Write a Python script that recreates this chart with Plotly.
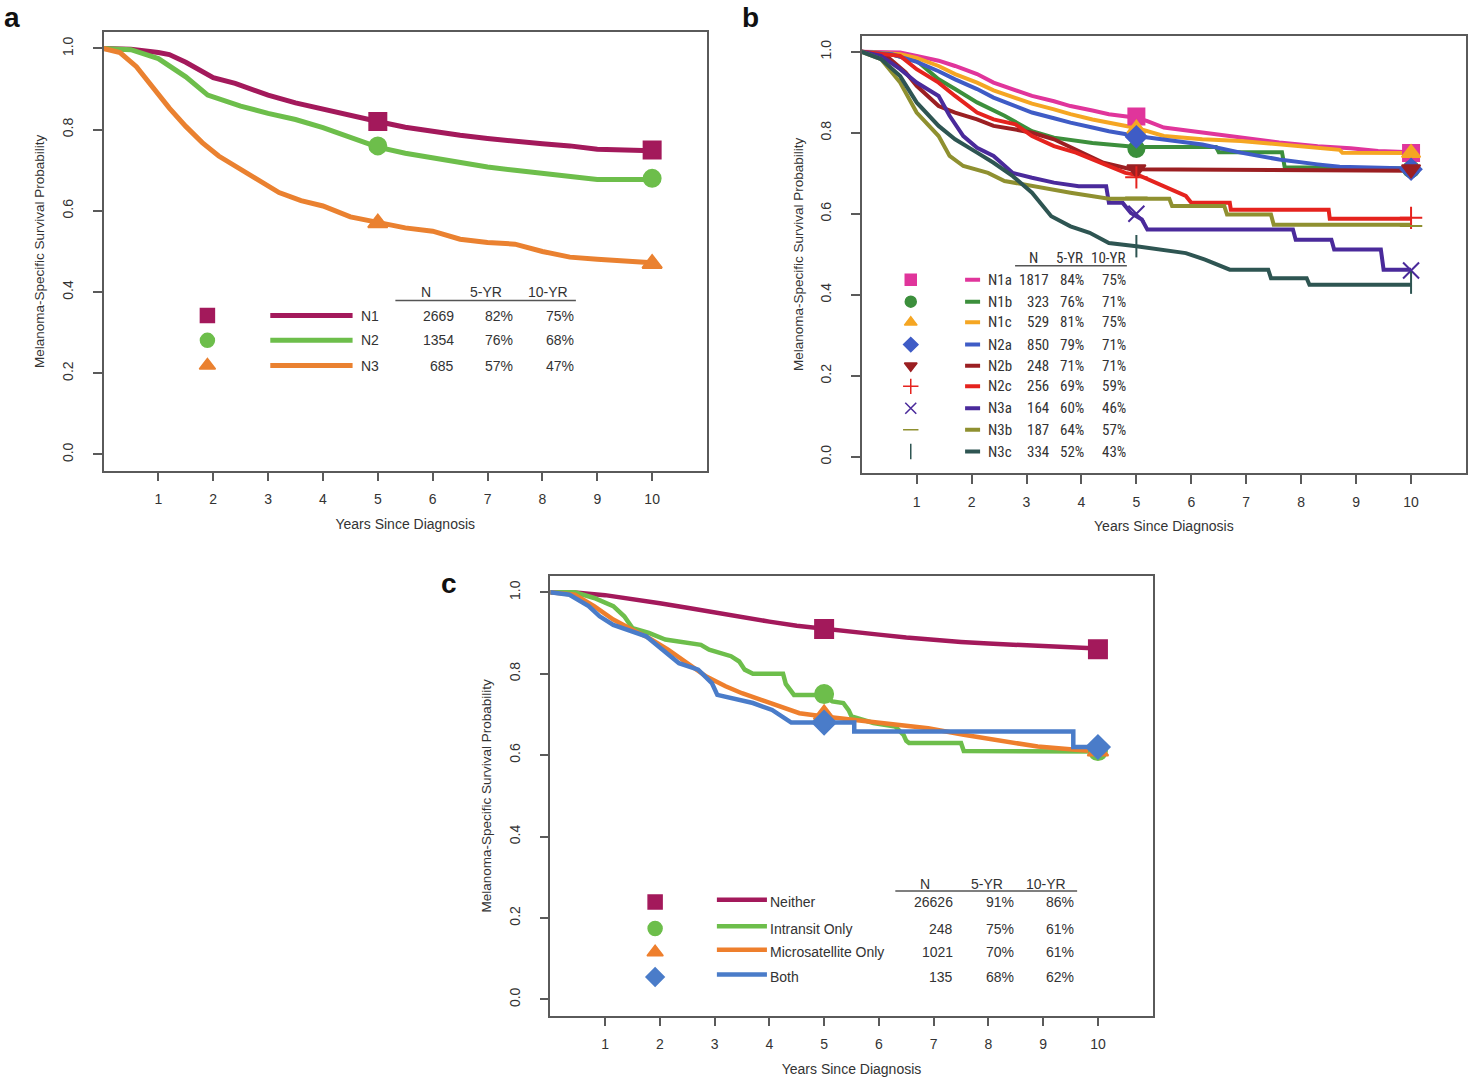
import plotly.graph_objects as go

W, H = 1471, 1084
FONT = "Liberation Sans, Arial, sans-serif"
NARROW = "Liberation Sans Narrow, Roboto Condensed, Arial Narrow, Liberation Sans, sans-serif"

# ---------------- Panel a data ----------------
A_NAMES = ["N1", "N2", "N3"]
A_N = [2669, 1354, 685]
A_5YR = [82, 76, 57]
A_10YR = [75, 68, 47]
A_COLORS = ["#A3195B", "#6DBE4B", "#EA8130"]
A_SYMBOLS = ["square", "circle", "triangle-up"]
A_N1_t = [0, 0.5, 1.0, 1.2, 1.5, 2.0, 2.4, 3.0, 3.5, 4.0, 4.5, 5.0, 5.5, 6.0, 6.5, 7.0, 7.5, 8.0, 8.5, 9.0, 9.5, 10.0]
A_N1_s = [1.0, 0.998, 0.99, 0.985, 0.966, 0.928, 0.914, 0.885, 0.866, 0.850, 0.835, 0.82, 0.806, 0.795, 0.786, 0.778, 0.770, 0.765, 0.760, 0.752, 0.750, 0.748]
A_N2_t = [0, 0.5, 1.0, 1.5, 1.9, 2.2, 2.5, 3.0, 3.5, 4.0, 4.5, 5.0, 5.5, 6.0, 6.5, 7.0, 7.5, 8.0, 8.5, 9.0, 9.5, 10.0]
A_N2_s = [1.0, 0.997, 0.975, 0.93, 0.885, 0.87, 0.858, 0.84, 0.825, 0.805, 0.78, 0.757, 0.742, 0.73, 0.718, 0.708, 0.700, 0.693, 0.684, 0.677, 0.677, 0.677]
A_N3_t = [0, 0.3, 0.6, 0.9, 1.2, 1.5, 1.8, 2.1, 2.4, 2.8, 3.2, 3.6, 4.0, 4.5, 5.0, 5.5, 6.0, 6.5, 7.0, 7.5, 8.0, 8.5, 9.0, 9.5, 10.0]
A_N3_s = [1.0, 0.99, 0.955, 0.905, 0.853, 0.808, 0.768, 0.735, 0.71, 0.675, 0.645, 0.625, 0.612, 0.585, 0.57, 0.558, 0.55, 0.53, 0.522, 0.518, 0.50, 0.486, 0.481, 0.478, 0.472]

# ---------------- Panel b data ----------------
B_NAMES = ["N1a", "N1b", "N1c", "N2a", "N2b", "N2c", "N3a", "N3b", "N3c"]
B_N = [1817, 323, 529, 850, 248, 256, 164, 187, 334]
B_5YR = [84, 76, 81, 79, 71, 69, 60, 64, 52]
B_10YR = [75, 71, 75, 71, 71, 59, 46, 57, 43]
B_COLORS = ["#E0359B", "#3C8F3C", "#F5A623", "#3F5CC6", "#9B1F22", "#E5231E", "#4A2A9B", "#8F9030", "#2E5552"]
B_SYMBOLS = ["square", "circle", "triangle-up", "diamond", "triangle-down",
             "cross-thin-open", "x-thin-open", "line-ew-open", "line-ns-open"]
B_N1a_t = [0, 0.7, 1.0, 1.4, 1.7, 2.1, 2.4, 2.8, 3.1, 3.5, 3.8, 4.2, 4.5, 5.0, 5.2, 5.5, 6.2, 6.9, 7.6, 8.3, 8.9, 9.4, 10.0]
B_N1a_s = [1.0, 0.998, 0.99, 0.978, 0.965, 0.945, 0.924, 0.905, 0.891, 0.878, 0.866, 0.855, 0.846, 0.837, 0.829, 0.813, 0.80, 0.788, 0.776, 0.767, 0.762, 0.755, 0.752]
B_N1b_t = [0, 0.5, 1.0, 1.4, 1.7, 2.1, 2.6, 3.1, 3.5, 4.2, 5.0, 6.45, 6.5, 7.65, 7.7, 10.0]
B_N1b_s = [1.0, 0.995, 0.978, 0.932, 0.908, 0.875, 0.842, 0.804, 0.788, 0.775, 0.765, 0.765, 0.752, 0.752, 0.715, 0.712]
B_N1c_t = [0, 0.7, 1.0, 1.4, 1.7, 2.1, 2.4, 2.8, 3.1, 3.5, 3.8, 4.2, 4.8, 5.0, 5.5, 6.2, 6.9, 7.6, 8.3, 8.7, 8.75, 10.0]
B_N1c_s = [1.0, 0.994, 0.985, 0.965, 0.945, 0.924, 0.905, 0.887, 0.872, 0.858, 0.846, 0.833, 0.817, 0.812, 0.792, 0.784, 0.78, 0.771, 0.763, 0.758, 0.751, 0.75]
B_N2a_t = [0, 0.55, 1.0, 1.4, 1.7, 2.1, 2.4, 2.8, 3.1, 3.5, 3.8, 4.2, 4.5, 5.0, 5.5, 6.2, 6.9, 7.6, 8.3, 8.7, 10.0]
B_N2a_s = [1.0, 0.994, 0.975, 0.952, 0.932, 0.908, 0.887, 0.866, 0.85, 0.836, 0.825, 0.813, 0.804, 0.792, 0.784, 0.771, 0.751, 0.734, 0.722, 0.716, 0.712]
B_N2b_t = [0, 0.45, 0.8, 1.0, 1.4, 1.7, 2.1, 2.4, 2.8, 3.1, 3.5, 3.9, 4.4, 4.9, 10.0]
B_N2b_s = [1.0, 0.99, 0.949, 0.916, 0.866, 0.85, 0.833, 0.817, 0.808, 0.80, 0.784, 0.759, 0.726, 0.71, 0.706]
B_N2c_t = [0, 0.7, 1.0, 1.4, 1.7, 2.1, 2.4, 2.8, 3.1, 3.5, 3.9, 4.35, 4.8, 5.05, 5.35, 5.6, 5.9, 6.0, 6.7, 6.72, 8.5, 8.52, 10.0]
B_N2c_s = [1.0, 0.99, 0.957, 0.924, 0.891, 0.85, 0.833, 0.821, 0.792, 0.767, 0.751, 0.726, 0.701, 0.695, 0.677, 0.66, 0.644, 0.627, 0.627, 0.61, 0.61, 0.588, 0.588]
B_N3a_t = [0, 0.35, 0.7, 1.0, 1.4, 1.6, 1.85, 2.1, 2.4, 2.75, 3.1, 3.5, 3.95, 4.45, 4.5, 4.75, 4.9, 5.1, 5.2, 7.85, 7.9, 8.55, 8.6, 9.45, 9.5, 10.0]
B_N3a_s = [1.0, 0.99, 0.957, 0.924, 0.891, 0.842, 0.792, 0.763, 0.743, 0.701, 0.689, 0.677, 0.668, 0.668, 0.627, 0.627, 0.602, 0.586, 0.561, 0.561, 0.536, 0.536, 0.512, 0.512, 0.462, 0.462]
B_N3b_t = [0, 0.35, 0.7, 1.0, 1.4, 1.6, 1.85, 2.3, 2.6, 3.1, 3.8, 4.5, 5.6, 5.65, 6.6, 6.65, 7.45, 7.5, 10.0]
B_N3b_s = [1.0, 0.982, 0.924, 0.85, 0.792, 0.743, 0.718, 0.701, 0.681, 0.668, 0.652, 0.637, 0.637, 0.619, 0.619, 0.598, 0.598, 0.573, 0.573]
B_N3c_t = [0, 0.35, 0.7, 1.0, 1.4, 1.7, 2.1, 2.4, 2.75, 3.1, 3.45, 3.8, 4.15, 4.5, 5.0, 5.9, 6.25, 6.7, 7.4, 7.45, 8.1, 8.15, 10.0]
B_N3c_s = [1.0, 0.982, 0.94, 0.875, 0.817, 0.784, 0.751, 0.726, 0.693, 0.652, 0.594, 0.569, 0.553, 0.528, 0.52, 0.503, 0.487, 0.462, 0.462, 0.441, 0.441, 0.425, 0.425]

# ---------------- Panel c data ----------------
C_NAMES = ["Neither", "Intransit Only", "Microsatellite Only", "Both"]
C_N = [26626, 248, 1021, 135]
C_5YR = [91, 75, 70, 68]
C_10YR = [86, 61, 61, 62]
C_COLORS = ["#A3195B", "#6DBE4B", "#EE7F2D", "#4A7CC9"]
C_SYMBOLS = ["square", "circle", "triangle-up", "diamond"]
C_NEI_t = [0, 0.5, 1.0, 1.5, 2.0, 2.5, 3.0, 3.5, 4.0, 4.5, 5.0, 5.5, 6.0, 6.5, 7.0, 7.5, 8.0, 8.5, 9.0, 9.5, 10.0]
C_NEI_s = [1.0, 0.999, 0.993, 0.984, 0.973, 0.962, 0.950, 0.939, 0.928, 0.918, 0.910, 0.903, 0.896, 0.889, 0.883, 0.878, 0.874, 0.871, 0.868, 0.865, 0.862]
C_INT_t = [0, 0.45, 0.8, 1.15, 1.35, 1.5, 1.8, 2.1, 2.75, 2.9, 3.3, 3.45, 3.55, 3.7, 4.25, 4.3, 4.45, 4.95, 5.15, 5.35, 5.45, 5.5, 5.9, 6.3, 6.45, 6.5, 6.55, 7.5, 7.55, 10.0]
C_INT_s = [1.0, 1.0, 0.986, 0.966, 0.941, 0.912, 0.90, 0.884, 0.871, 0.859, 0.843, 0.83, 0.81, 0.80, 0.80, 0.775, 0.748, 0.748, 0.732, 0.728, 0.71, 0.695, 0.679, 0.67, 0.65, 0.635, 0.63, 0.63, 0.61, 0.609]
C_MIC_t = [0, 0.45, 0.8, 1.15, 1.5, 1.8, 2.15, 2.5, 2.85, 3.2, 3.5, 3.85, 4.2, 4.55, 5.0, 5.5, 6.2, 6.9, 7.55, 8.25, 8.9, 9.6, 10.0]
C_MIC_s = [1.0, 0.994, 0.966, 0.933, 0.908, 0.888, 0.859, 0.826, 0.793, 0.769, 0.752, 0.736, 0.72, 0.703, 0.695, 0.687, 0.675, 0.666, 0.65, 0.634, 0.621, 0.613, 0.609]
C_BOT_t = [0, 0.35, 0.7, 0.9, 1.15, 1.5, 1.75, 2.05, 2.35, 2.7, 2.95, 3.05, 3.3, 3.7, 4.05, 4.4, 5.0, 5.55, 5.55, 9.55, 9.55, 10.0]
C_BOT_s = [1.0, 0.994, 0.966, 0.941, 0.92, 0.904, 0.892, 0.859, 0.826, 0.81, 0.777, 0.748, 0.74, 0.728, 0.711, 0.68, 0.68, 0.68, 0.658, 0.658, 0.62, 0.62]

YTICKS = [0.0, 0.2, 0.4, 0.6, 0.8, 1.0]
YTICKTEXT = ["0.0", "0.2", "0.4", "0.6", "0.8", "1.0"]
XTICKS = [1, 2, 3, 4, 5, 6, 7, 8, 9, 10]
MARK_T = [5, 10]

fig = go.Figure()

def add_curve(t, s, color, width, xa, ya):
    fig.add_trace(go.Scatter(x=t, y=s, mode="lines", line=dict(color=color, width=width),
                             xaxis=xa, yaxis=ya, hoverinfo="skip", showlegend=False))

def add_markers(v5, v10, color, symbol, size, xa, ya, lw=2):
    fig.add_trace(go.Scatter(x=MARK_T, y=[v5 / 100, v10 / 100], mode="markers",
                             marker=dict(color=color, symbol=symbol, size=size,
                                         line=dict(color=color, width=lw)),
                             xaxis=xa, yaxis=ya, hoverinfo="skip", showlegend=False))

# ---- Panel a curves ----
for t, s, c in zip([A_N1_t, A_N2_t, A_N3_t], [A_N1_s, A_N2_s, A_N3_s], A_COLORS):
    add_curve(t, s, c, 5, "x", "y")
for i in range(3):
    add_markers(A_5YR[i], A_10YR[i], A_COLORS[i], A_SYMBOLS[i], 17, "x", "y")

# ---- Panel b curves ----
B_T = [B_N1a_t, B_N1b_t, B_N1c_t, B_N2a_t, B_N2b_t, B_N2c_t, B_N3a_t, B_N3b_t, B_N3c_t]
B_S = [B_N1a_s, B_N1b_s, B_N1c_s, B_N2a_s, B_N2b_s, B_N2c_s, B_N3a_s, B_N3b_s, B_N3c_s]
for t, s, c in zip(B_T, B_S, B_COLORS):
    add_curve(t, s, c, 4, "x2", "y2")
for i in range(9):
    add_markers(B_5YR[i], B_10YR[i], B_COLORS[i], B_SYMBOLS[i], 16, "x2", "y2")

# ---- Panel c curves ----
C_T = [C_NEI_t, C_INT_t, C_MIC_t, C_BOT_t]
C_S = [C_NEI_s, C_INT_s, C_MIC_s, C_BOT_s]
for t, s, c in zip(C_T, C_S, C_COLORS):
    add_curve(t, s, c, 4.5, "x3", "y3")
for i in range(4):
    add_markers(C_5YR[i], C_10YR[i], C_COLORS[i], C_SYMBOLS[i], 18, "x3", "y3")

annotations = []
shapes = []

def legend_table(names, ns, y5, y10, colors, symbols, xa, ya, sym_x, rows_y, line_x0, line_x1,
                 lab_x, col_right, head_y, head_x, ul, font, fsize, msize, lwidth, line_dy=0.0):
    for i in range(len(names)):
        fig.add_trace(go.Scatter(x=[sym_x], y=[rows_y[i]], mode="markers",
                                 marker=dict(color=colors[i], symbol=symbols[i], size=msize,
                                             line=dict(color=colors[i], width=1.5)),
                                 xaxis=xa, yaxis=ya, hoverinfo="skip", showlegend=False))
        fig.add_trace(go.Scatter(x=[line_x0, line_x1], y=[rows_y[i] + line_dy] * 2, mode="lines",
                                 line=dict(color=colors[i], width=lwidth),
                                 xaxis=xa, yaxis=ya, hoverinfo="skip", showlegend=False))
        annotations.append(dict(x=lab_x, y=rows_y[i], xref=xa, yref=ya, text=names[i], showarrow=False,
                                xanchor="left", yanchor="middle", font=dict(family=font, size=fsize, color="#333")))
        for val, cx in zip([str(ns[i]), f"{y5[i]}%", f"{y10[i]}%"], col_right):
            annotations.append(dict(x=cx, y=rows_y[i], xref=xa, yref=ya, text=val, showarrow=False,
                                    xanchor="right", yanchor="middle", font=dict(family=font, size=fsize, color="#333")))
    for txt, cx in zip(["N", "5-YR", "10-YR"], head_x):
        annotations.append(dict(x=cx, y=head_y, xref=xa, yref=ya, text=txt, showarrow=False,
                                xanchor="center", yanchor="middle", font=dict(family=font, size=fsize, color="#333")))
    shapes.append(dict(type="line", xref=xa, yref=ya, x0=ul[0], x1=ul[1], y0=ul[2], y1=ul[2],
                       line=dict(color="#555", width=1.5)))

legend_table(A_NAMES, A_N, A_5YR, A_10YR, A_COLORS, A_SYMBOLS, "x", "y",
             1.894, [0.342, 0.281, 0.219], 3.04, 4.54, 4.65, [6.42, 7.50, 8.61],
             0.399, [5.87, 6.97, 8.10], (5.32, 8.61, 0.379), FONT, 14, 14, 5)
legend_table(B_NAMES, B_N, B_5YR, B_10YR, B_COLORS, B_SYMBOLS, "x2", "y2",
             0.893, [0.437, 0.383, 0.332, 0.277, 0.225, 0.174, 0.120, 0.067, 0.013],
             1.882, 2.155, 2.264, [3.443, 4.086, 4.856],
             0.491, [3.12, 3.776, 4.486], (2.792, 4.827, 0.472), NARROW, 15, 11, 4)
legend_table(C_NAMES, C_N, C_5YR, C_10YR, C_COLORS, C_SYMBOLS, "x3", "y3",
             1.914, [0.239, 0.174, 0.116, 0.055], 3.042, 3.956, 3.974, [7.398, 8.495, 9.592],
             0.284, [6.85, 7.98, 9.05], (6.30, 9.62, 0.266), FONT, 14, 14, 4.5, line_dy=0.006)

for lab, x, y in [("a", 12, 18), ("b", 750, 18), ("c", 449, 583)]:
    annotations.append(dict(x=x / W, y=1 - y / H, xref="paper", yref="paper", text=f"<b>{lab}</b>",
                            showarrow=False, xanchor="center", yanchor="middle",
                            font=dict(family=FONT, size=28, color="#111")))

def xaxis(x0, x1, anchor):
    return dict(domain=[x0 / W, x1 / W], anchor=anchor, range=[0, 11], tickvals=XTICKS,
                showline=True, linecolor="#5a5a5a", linewidth=1.5, mirror=True,
                ticks="outside", ticklen=9, tickwidth=1.5, tickcolor="#5a5a5a",
                showgrid=False, zeroline=False, ticklabelstandoff=6, automargin=False,
                tickfont=dict(family=FONT, size=14, color="#333"),
                title=dict(text="Years Since Diagnosis", standoff=13, font=dict(family=FONT, size=14, color="#333")))

def yaxis(yb, yt, anchor):
    return dict(domain=[1 - yb / H, 1 - yt / H], anchor=anchor, range=[-0.04, 1.04],
                tickvals=YTICKS, ticktext=YTICKTEXT, tickangle=-90,
                showline=True, linecolor="#5a5a5a", linewidth=1.5, mirror=True,
                ticks="outside", ticklen=9, tickwidth=1.5, tickcolor="#5a5a5a",
                showgrid=False, zeroline=False, ticklabelstandoff=14, automargin=False,
                tickfont=dict(family=FONT, size=14, color="#333"),
                title=dict(text="Melanoma-Specific Survival Probability", standoff=12,
                           font=dict(family=FONT, size=13.5, color="#333")))

fig.update_layout(
    width=W, height=H, margin=dict(l=0, r=0, t=0, b=0),
    paper_bgcolor="white", plot_bgcolor="white",
    xaxis=xaxis(103.5, 707, "y"), yaxis=yaxis(470.7, 32.2, "x"),
    xaxis2=xaxis(861.7, 1466, "y2"), yaxis2=yaxis(473, 35.6, "x2"),
    xaxis3=xaxis(550.3, 1152.7, "y3"), yaxis3=yaxis(1015.7, 576, "x3"),
    annotations=annotations, shapes=shapes, showlegend=False,
)

fig.write_html("out.html", config={"displayModeBar": False},
               post_script="document.body.style.margin='0';document.body.style.padding='0';")
